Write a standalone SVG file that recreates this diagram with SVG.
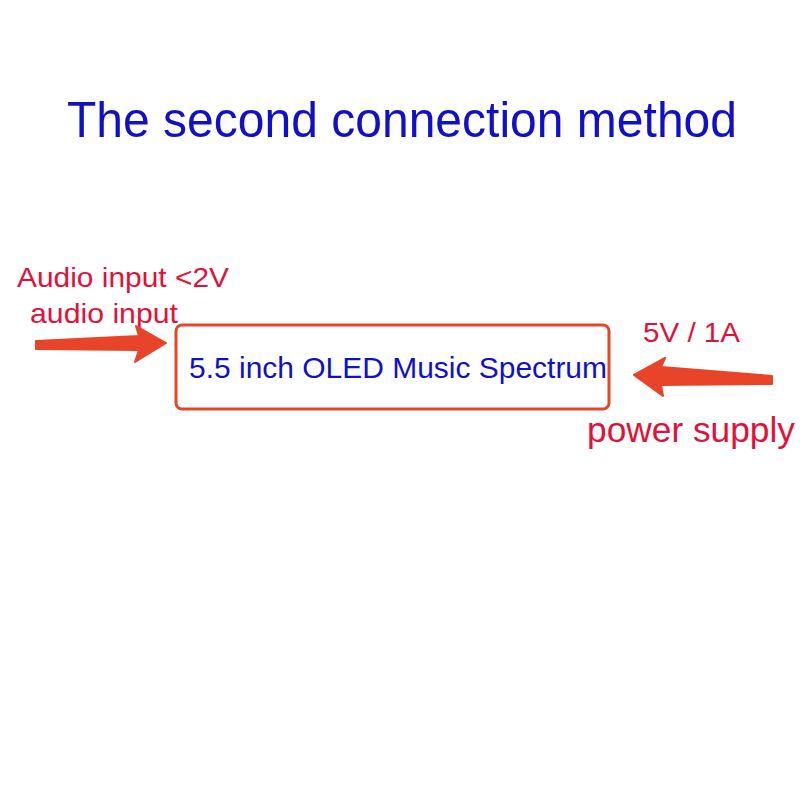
<svg xmlns="http://www.w3.org/2000/svg" width="800" height="800" viewBox="0 0 800 800">
<style>
.blue{fill:#1010c8;font-family:"Liberation Sans",Arial,sans-serif}
.red{fill:#e3103a;font-family:"Liberation Sans",Arial,sans-serif}
.arrow{fill:#e8442a;stroke:#e8442a;stroke-width:2;stroke-linejoin:round}
</style>
<rect width="800" height="800" fill="#ffffff"/>
<g id="title">
<text class="blue" x="67" y="137" font-size="50" textLength="670" lengthAdjust="spacingAndGlyphs">The second connection method</text>
</g>
<g id="oled-box">
<rect x="176" y="325" width="433" height="84" rx="6" ry="6" fill="#ffffff" stroke="#e8442a" stroke-width="3"/>
<text class="blue" x="189" y="378" font-size="30" textLength="418" lengthAdjust="spacingAndGlyphs">5.5 inch OLED Music Spectrum</text>
</g>
<g id="audio-label">
<text class="red" x="17" y="287" font-size="28" textLength="212" lengthAdjust="spacingAndGlyphs">Audio input &lt;2V</text>
<text class="red" x="30" y="323" font-size="28" textLength="148" lengthAdjust="spacingAndGlyphs">audio input</text>
</g>
<g id="power-label">
<text class="red" x="643" y="342" font-size="28" textLength="97" lengthAdjust="spacingAndGlyphs">5V / 1A</text>
<text class="red" x="587" y="442" font-size="35" textLength="208" lengthAdjust="spacingAndGlyphs">power supply</text>
</g>
<g id="connectors">
<polygon class="arrow" points="36,341 139,336 136,326 166,343 135,362 139,350 36,349"/>
<polygon class="arrow" points="772,376 661,367 665,358 634,375 663,396 661,385 772,384"/>
</g>
</svg>
